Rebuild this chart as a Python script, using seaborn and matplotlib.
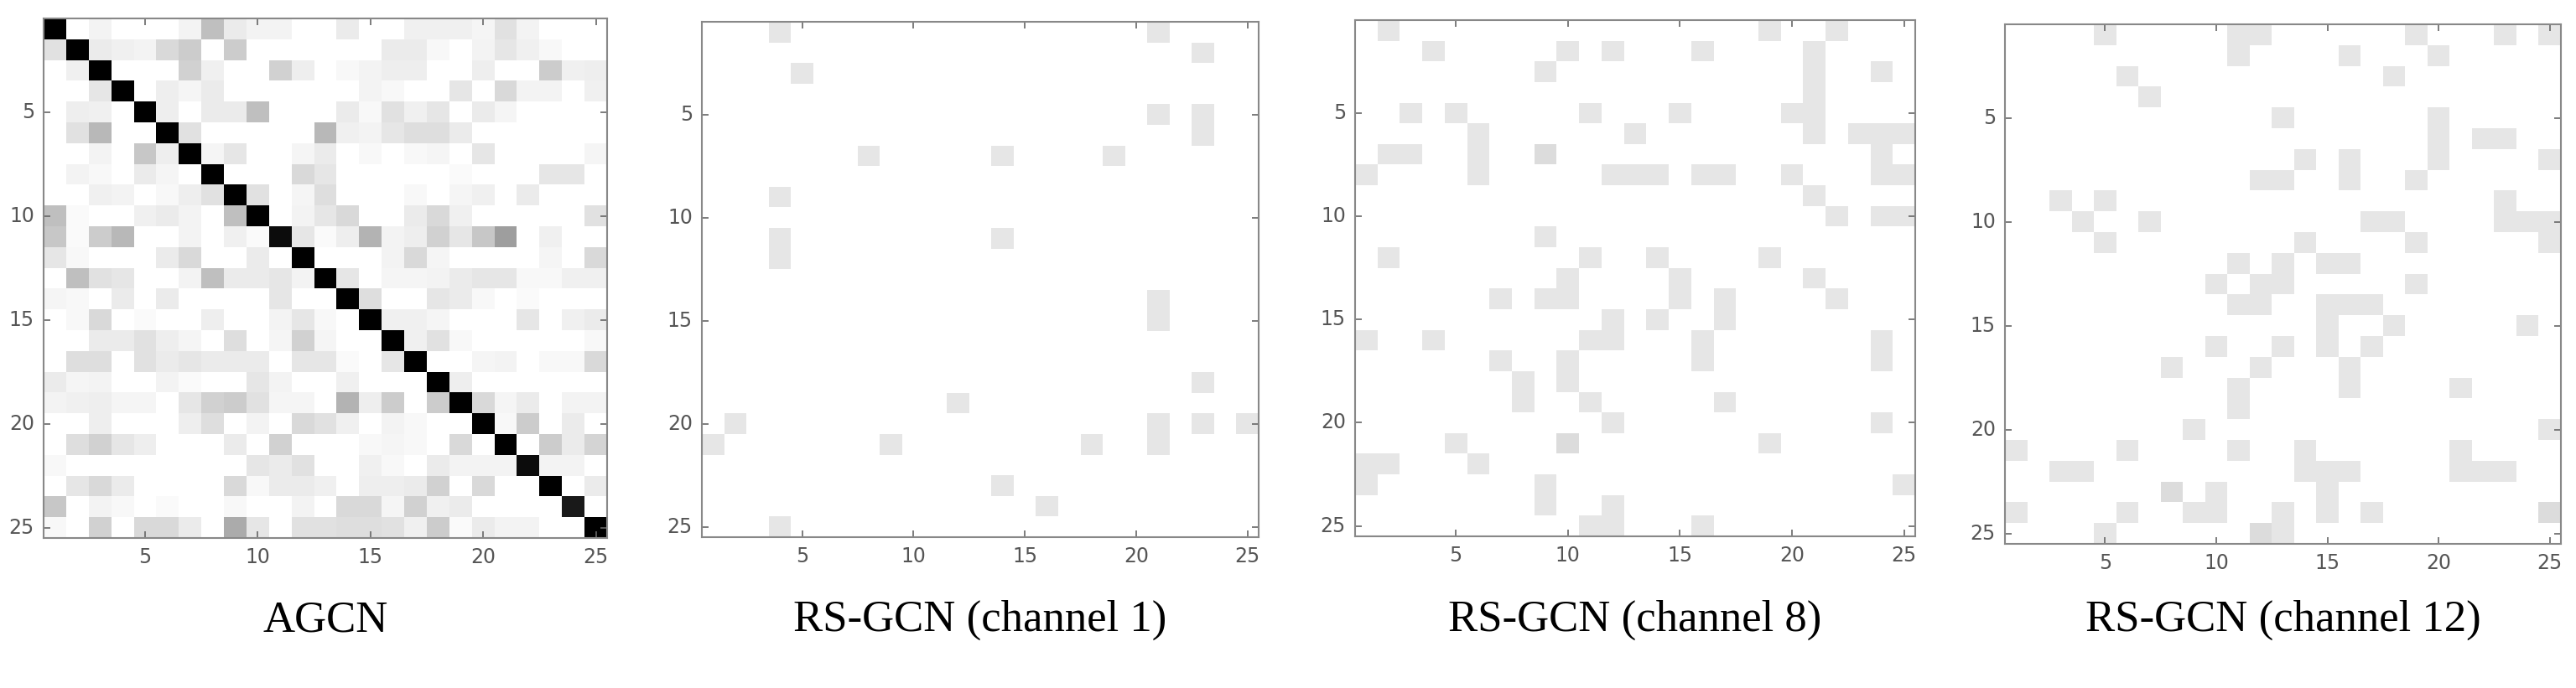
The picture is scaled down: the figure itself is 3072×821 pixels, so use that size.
import numpy as np
import matplotlib
matplotlib.use("Agg")
import matplotlib.pyplot as plt
from matplotlib.colors import LinearSegmentedColormap
import seaborn as sns

N = 25

# AGCN adjacency, darkness 0 (white) .. 1 (black), row by row
agcn_rows = [
    [1, 0, .05, 0, 0, 0, .05, .25, .08, .05, .05, 0, 0, .08, 0, 0, .06, .06, .06, .04, .12, .05, 0, 0, 0],
    [.12, 1, .08, .06, .05, .15, .2, 0, .2, 0, 0, 0, 0, 0, 0, .08, .08, .03, 0, .05, .1, .06, .03, 0, 0],
    [0, .06, 1, 0, 0, 0, .18, .06, 0, 0, .18, .07, 0, .03, .05, .07, .07, 0, 0, .07, 0, 0, .2, .06, .07],
    [0, 0, .1, 1, 0, .07, .04, .08, 0, 0, 0, 0, 0, 0, .05, .03, 0, 0, .1, 0, .15, .05, .05, 0, .06],
    [0, .07, .06, 0, 1, .07, 0, .08, .08, .25, 0, 0, 0, .08, .03, .12, .06, .1, 0, .08, .04, 0, 0, 0, 0],
    [0, .12, .28, 0, 0, 1, .12, 0, 0, 0, 0, 0, .28, .06, .05, .1, .13, .13, .08, 0, 0, 0, 0, 0, 0],
    [0, 0, .05, 0, .22, .07, 1, .04, .1, 0, 0, .04, .08, 0, .03, 0, .03, .04, 0, .1, 0, 0, 0, 0, .04],
    [0, .05, .03, 0, .08, .04, 0, 1, 0, 0, 0, .15, .1, 0, 0, 0, 0, 0, .02, 0, 0, 0, .1, .1, 0],
    [0, 0, .06, .05, 0, .03, .07, .12, 1, .12, 0, .04, .13, 0, 0, 0, .03, 0, .04, .06, 0, .08, 0, 0, 0],
    [.25, .02, 0, 0, .06, .08, .05, 0, .25, 1, 0, .05, .1, .15, 0, 0, .08, .15, .06, 0, 0, 0, 0, 0, .12],
    [.22, .02, .2, .28, 0, 0, .05, 0, .06, .02, .95, .1, .02, .07, .3, .05, .07, .18, .1, .22, .38, 0, .06, 0, 0],
    [.1, .03, 0, 0, 0, .08, .15, 0, 0, .08, 0, 1, 0, 0, 0, .05, .15, .04, 0, 0, 0, 0, .04, 0, .15],
    [0, .25, .12, .1, 0, 0, .05, .25, .08, .08, .1, .05, 1, .1, 0, .04, .04, .05, .08, .1, .1, .03, .03, .06, .06],
    [.04, .03, 0, .08, 0, .08, 0, 0, 0, 0, .1, 0, 0, 1, .13, 0, 0, .1, .08, .03, 0, .02, 0, 0, 0],
    [0, .03, .15, 0, .02, 0, 0, .07, 0, 0, .05, .1, .03, 0, 1, .06, .06, .04, 0, 0, 0, .1, 0, .06, .08],
    [0, 0, .08, .08, .12, .07, .04, 0, .13, 0, .04, .18, .04, 0, 0, 1, .06, .12, .03, 0, 0, 0, 0, 0, .03],
    [0, .13, .13, 0, .12, .08, .1, .08, .08, .08, 0, .1, .1, .02, 0, .1, 1, 0, 0, .04, .05, 0, .03, .03, .15],
    [.08, .04, .05, 0, 0, .05, .02, 0, 0, .1, .05, 0, 0, .06, 0, 0, 0, 1, .07, 0, 0, 0, 0, 0, 0],
    [.05, .06, .07, .04, .04, 0, .1, .18, .2, .12, .04, .04, 0, .3, .07, .2, 0, .2, 1, .15, .04, .08, 0, .05, .05],
    [0, 0, .07, 0, 0, 0, .07, .13, 0, .05, 0, .15, .12, .06, 0, .05, .03, 0, 0, 1, .03, .2, 0, .08, 0],
    [0, .13, .18, .1, .07, 0, 0, 0, .08, 0, .18, 0, 0, 0, .03, .04, .03, 0, .15, 0, 1, 0, .2, .08, .17],
    [.03, 0, 0, 0, 0, 0, 0, 0, 0, .1, .08, .12, 0, 0, .06, .03, 0, .08, .05, .05, .05, .95, .05, .05, 0],
    [0, .1, .15, .08, 0, 0, 0, 0, .15, .03, .08, .08, .06, 0, .07, .07, .08, .18, 0, .15, 0, 0, 1, 0, .08],
    [.22, 0, .05, .03, 0, .02, 0, 0, .03, 0, 0, .05, 0, .15, .15, .04, .18, .06, .08, 0, 0, 0, 0, .9, 0],
    [.03, 0, .18, 0, .15, .15, .08, 0, .33, .1, 0, .12, .12, .13, .13, .12, .06, .2, .02, .08, .05, .05, 0, 0, 1],
]

# sparse RS-GCN channels: (row, col) of light grey cells, 1-based
ch1_cells = [(1, 4), (1, 21), (2, 23), (3, 5), (5, 21), (5, 23), (6, 23), (7, 8), (7, 14), (7, 19),
             (9, 4), (11, 4), (12, 4), (11, 14), (14, 21), (15, 21), (18, 23), (19, 12), (20, 2),
             (20, 21), (21, 21), (20, 23), (20, 25), (21, 1), (21, 9), (21, 18), (23, 14), (24, 16),
             (25, 4)]
ch8_cells = [(1, 2), (1, 19), (1, 22), (2, 4), (2, 10), (2, 12), (2, 16), (2, 21), (3, 9), (3, 21),
             (3, 24), (4, 21), (5, 3), (5, 5), (5, 11), (5, 15), (5, 20), (5, 21), (6, 6), (6, 13),
             (6, 21), (6, 23), (6, 24), (6, 25), (7, 2), (7, 3), (7, 6), (7, 9), (7, 24), (8, 1),
             (8, 6), (8, 12), (8, 13), (8, 14), (8, 16), (8, 17), (8, 20), (8, 24), (8, 25), (9, 21),
             (10, 22), (10, 24), (10, 25), (11, 9), (12, 2), (12, 11), (12, 14), (12, 19), (13, 10),
             (13, 15), (13, 21), (14, 7), (14, 9), (14, 10), (14, 15), (14, 17), (14, 22), (15, 12),
             (15, 14), (15, 17), (16, 1), (16, 4), (16, 11), (16, 12), (16, 16), (16, 24), (17, 7),
             (17, 10), (17, 16), (17, 24), (18, 8), (18, 10), (19, 8), (19, 11), (19, 17), (20, 12),
             (20, 24), (21, 5), (21, 10), (21, 19), (22, 1), (22, 2), (22, 6), (23, 1), (23, 9),
             (23, 25), (24, 9), (24, 12), (25, 11), (25, 12), (25, 16)]
ch12_cells = [(1, 5), (1, 11), (1, 12), (1, 19), (1, 23), (1, 25), (2, 11), (2, 16), (2, 20), (3, 6),
              (3, 18), (4, 7), (5, 13), (5, 20), (6, 20), (6, 22), (6, 23), (7, 14), (7, 16), (7, 20),
              (7, 25), (8, 12), (8, 13), (8, 16), (8, 19), (9, 3), (9, 5), (9, 23), (10, 4), (10, 7),
              (10, 17), (10, 18), (10, 23), (10, 24), (10, 25), (11, 5), (11, 14), (11, 19), (11, 25),
              (12, 11), (12, 13), (12, 15), (12, 16), (13, 10), (13, 12), (13, 13), (13, 19),
              (14, 11), (14, 12), (14, 15), (14, 16), (14, 17), (15, 15), (15, 18), (15, 24),
              (16, 10), (16, 13), (16, 15), (16, 17), (17, 8), (17, 12), (17, 16), (18, 11),
              (18, 16), (18, 21), (19, 11), (20, 9), (20, 25), (21, 1), (21, 6), (21, 11), (21, 14),
              (21, 21), (22, 3), (22, 4), (22, 14), (22, 15), (22, 16), (22, 21), (22, 22), (22, 23),
              (23, 8), (23, 10), (23, 15), (24, 1), (24, 6), (24, 9), (24, 10), (24, 13), (24, 15),
              (24, 17), (24, 25), (25, 5), (25, 12), (25, 13)]
darker_cells = {"ch8": [(7, 9), (21, 10)], "ch12": [(23, 8), (24, 25), (25, 12)]}

titles = ["AGCN", "RS-GCN (channel 1)", "RS-GCN (channel 8)", "RS-GCN (channel 12)"]
tick_vals = [5, 10, 15, 20, 25]


def sparse(cells, dark):
    m = np.zeros((N, N))
    for r, c in cells:
        m[r - 1, c - 1] = 0.1
    for r, c in dark:
        m[r - 1, c - 1] = 0.14
    return m


mats = [np.array(agcn_rows),
        sparse(ch1_cells, []),
        sparse(ch8_cells, darker_cells["ch8"]),
        sparse(ch12_cells, darker_cells["ch12"])]

gray_lin = LinearSegmentedColormap.from_list("gray_lin", ["#ffffff", "#000000"])

W, H = 3072, 821
fig = plt.figure(figsize=(W / 100, H / 100), dpi=100)
boxes = [(52, 22, 724, 642), (837, 26, 1501, 641), (1616, 24, 2284, 640), (2391, 29, 3054, 649)]
title_y = 740

for mat, title, (x0, y0, x1, y1) in zip(mats, titles, boxes):
    ax = fig.add_axes([x0 / W, 1 - y1 / H, (x1 - x0) / W, (y1 - y0) / H])
    sns.heatmap(mat, ax=ax, cmap=gray_lin, vmin=0, vmax=1, cbar=False, square=False)
    pos = [v - 0.5 for v in tick_vals]
    ax.set_xticks(pos)
    ax.set_yticks(pos)
    ax.set_xticklabels(tick_vals, rotation=0)
    ax.set_yticklabels(tick_vals, rotation=0)
    ax.tick_params(direction="in", length=6, width=1.2, color="#666666", labelcolor="#555555",
                   labelsize=17, top=True, right=True, pad=8)
    for s in ax.spines.values():
        s.set_visible(True)
        s.set_color("#888888")
        s.set_linewidth(1.5)
    fig.text((x0 + x1) / 2 / W, 1 - title_y / H, title, ha="center", va="center",
             fontsize=38, family="Liberation Serif")

fig.savefig("out.png", dpi=100)
